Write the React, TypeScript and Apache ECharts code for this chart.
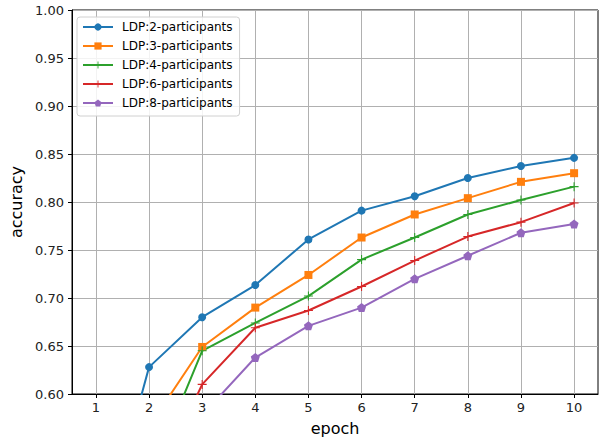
import React, { useEffect, useRef } from "react";
import * as echarts from "echarts";

const epochs = [1, 2, 3, 4, 5, 6, 7, 8, 9, 10];
const seriesNames = [
  "LDP:2-participants",
  "LDP:3-participants",
  "LDP:4-participants",
  "LDP:6-participants",
  "LDP:8-participants",
];
const acc2 = [0.424, 0.628, 0.68, 0.7135, 0.761, 0.791, 0.806, 0.825, 0.8375, 0.846];
const acc3 = [0.45, 0.566, 0.649, 0.69, 0.724, 0.763, 0.787, 0.804, 0.821, 0.83];
const acc4 = [0.42, 0.511, 0.645, 0.674, 0.702, 0.74, 0.763, 0.787, 0.802, 0.816];
const acc6 = [0.4, 0.492, 0.61, 0.669, 0.687, 0.712, 0.739, 0.764, 0.779, 0.799];
const acc8 = [0.42, 0.5, 0.578, 0.638, 0.671, 0.69, 0.72, 0.744, 0.768, 0.777];
const yTicks = [0.6, 0.65, 0.7, 0.75, 0.8, 0.85, 0.9, 0.95, 1.0];

const colors = ["#1f77b4", "#ff7f0e", "#2ca02c", "#d62728", "#9467bd"];
const plusPath = "path://M0,4.4 H10 V5.6 H0 Z M4.4,0 H5.6 V10 H4.4 Z";
const pentaPath = "path://M50,0 L97.6,34.5 L79.4,90.5 L20.6,90.5 L2.4,34.5 Z";
const symbols = ["circle", "rect", plusPath, plusPath, pentaPath];
const symbolSizes = [8, 8, 9, 9, 9];

const FONT = "DejaVu Sans";

export default function App() {
  const ref = useRef<HTMLDivElement>(null);
  useEffect(() => {
    if (!ref.current) return;
    const chart = echarts.init(ref.current, undefined, { renderer: "svg" });
    const allData = [acc2, acc3, acc4, acc6, acc8];
    chart.setOption({
      animation: false,
      backgroundColor: "#ffffff",
      grid: {
        left: 72,
        right: 4,
        top: 10,
        bottom: 49,
        show: true,
        borderColor: "#000",
        borderWidth: 1,
        backgroundColor: "transparent",
      },
      legend: {
        orient: "vertical",
        left: 77,
        top: 17,
        itemWidth: 30,
        itemHeight: 9,
        itemGap: 7,
        padding: [4, 7, 7, 5],
        backgroundColor: "rgba(255,255,255,0.85)",
        borderColor: "#d0d0d0",
        borderWidth: 1,
        borderRadius: 3,
        textStyle: { fontFamily: FONT, fontSize: 12, color: "#000", padding: [0, 0, 0, 4] },
        data: seriesNames,
      },
      xAxis: {
        type: "value",
        min: 0.55,
        max: 10.45,
        name: "epoch",
        nameLocation: "middle",
        nameGap: 26,
        nameTextStyle: { fontFamily: FONT, fontSize: 16, color: "#000" },
        axisLine: { show: true, onZero: false, lineStyle: { color: "#000", width: 1 } },
        axisTick: {
          show: true,
          length: 4,
          inside: false,
          customValues: epochs,
          lineStyle: { color: "#000" },
        },
        axisLabel: {
          customValues: epochs,
          fontFamily: FONT,
          fontSize: 13,
          color: "#222",
          margin: 7,
          formatter: (v: number) => String(Math.round(v)),
        },
        splitLine: { show: true, lineStyle: { color: "#b0b0b0", width: 1 } },
      },
      yAxis: {
        type: "value",
        min: 0.6,
        max: 1.0,
        name: "accuracy",
        nameLocation: "middle",
        nameGap: 47,
        nameTextStyle: { fontFamily: FONT, fontSize: 16, color: "#000" },
        axisLine: { show: true, onZero: false, lineStyle: { color: "#000", width: 1 } },
        axisTick: {
          show: true,
          length: 4,
          customValues: yTicks,
          lineStyle: { color: "#000" },
        },
        axisLabel: {
          customValues: yTicks,
          fontFamily: FONT,
          fontSize: 13,
          color: "#222",
          margin: 8,
          formatter: (v: number) => v.toFixed(2),
        },
        splitLine: { show: true, lineStyle: { color: "#b0b0b0", width: 1 } },
      },
      series: seriesNames.map((name, i) => ({
        name,
        type: "line",
        data: epochs.map((e, j) => [e, allData[i][j]]),
        symbol: symbols[i],
        symbolSize: symbolSizes[i],
        showSymbol: true,
        clip: true,
        itemStyle: { color: colors[i] },
        lineStyle: { color: colors[i], width: 2 },
        emphasis: { disabled: true },
      })),
    });
    return () => chart.dispose();
  }, []);
  return (
    <div
      ref={ref}
      style={{ position: "absolute", left: 0, top: 0, width: 602, height: 443 }}
    />
  );
}
